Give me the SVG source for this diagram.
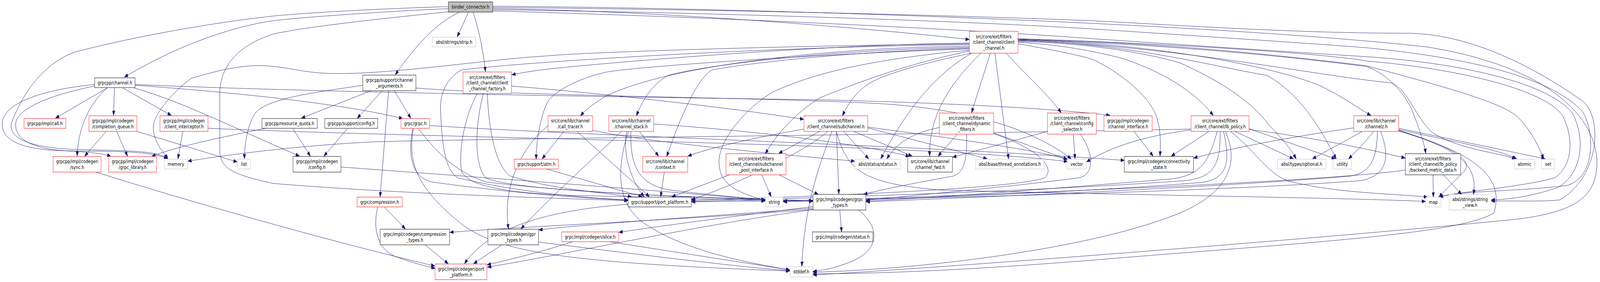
<svg xmlns="http://www.w3.org/2000/svg" width="5270" height="721" viewBox="0 0 5270 721" preserveAspectRatio="none">
<defs>
<style>
:root{width:100vw;height:100vh;display:block}
.n rect{fill:#ffffff;stroke-width:1}
.red rect{stroke:#ff0000}
.blk rect{stroke:#000000}
.ext rect{stroke:#bfbfbf}
.root rect{fill:#bfbfbf;stroke:#000000}
text{font-family:"DejaVu Sans","Liberation Sans",sans-serif;font-size:13px;text-anchor:middle;fill:#000000}
#edges path{fill:none;stroke:#191970;stroke-width:1;marker-end:url(#ah)}
</style>
<marker id="ah" markerWidth="13" markerHeight="9" refX="12" refY="4.5" orient="auto" markerUnits="userSpaceOnUse"><path d="M0,0 L12,4.5 L0,9 z" fill="#191970" stroke="#191970"/></marker>
</defs>
<rect x="0" y="0" width="5270" height="721" fill="#ffffff"/>
<g id="edges">
<path d="M1477,22 C1250,30 980,45 900,53 C800,64 620,100 410,197"/>
<path d="M1477,17 C1250,22 1000,33 900,41 C700,58 450,92 247,133 C150,160 80,230 40,310 C20,350 90,378 250,382 C420,386 510,384 553,405"/>
<path d="M1479,30 C1200,52 1000,70 900,87 C800,112 724,160 724,240 L724,382 C724,430 760,445 900,469 C1300,495 1800,506 2068,513"/>
<path d="M1543,31 L1506,94"/>
<path d="M1513,31 C1440,58 1375,110 1302,191"/>
<path d="M1558,31 C1580,80 1593,140 1599,183"/>
<path d="M1623,22 C2200,28 2900,75 3192,101"/>
<path d="M1623,19 C2200,23 3000,35 3600,53 C4000,70 4300,85 4647,85 C4850,90 5050,170 5212,258 C5280,300 5270,450 5138,511 C5080,516 5000,513 4912,514"/>
<path d="M1623,25 C2200,30 3100,50 3600,74 C4000,95 4300,110 4500,122 C4800,145 5100,190 5212,285 C5250,330 5260,450 5163,474 C5000,490 4800,488 4738,504"/>
<path d="M1623,28 C2200,40 3100,70 3600,99 C4000,120 4300,135 4500,145 C4800,160 5100,210 5180,290 C5230,370 5200,450 5130,480 C5050,500 4980,510 4912,511"/>
<path d="M1623,16 C2500,20 4000,60 4700,120 C5100,170 5262,300 5260,420 C5255,500 5200,540 5000,560 C4500,600 3200,680 2678,703"/>
<path d="M353,225 L183,302"/>
<path d="M353,225 C300,260 258,320 254,399"/>
<path d="M377,225 L374,295"/>
<path d="M405,225 L564,295"/>
<path d="M442,225 C600,260 750,320 986,399"/>
<path d="M445,216 C900,232 1800,246 2700,255 C3200,265 3500,280 3656,295"/>
<path d="M445,218 C700,232 1100,260 1326,303"/>
<path d="M312,216 C150,228 20,260 8,310 C0,350 50,378 172,384 C300,390 470,380 552,405"/>
<path d="M312,220 C150,245 60,280 52,313 C45,360 120,383 230,386 C300,390 340,392 365,400"/>
<path d="M350,336 L279,399"/>
<path d="M384,336 L420,399"/>
<path d="M451,336 L781,414"/>
<path d="M602,336 L586,406"/>
<path d="M685,328 C1500,355 3000,365 3516,413"/>
<path d="M876,328 C700,355 560,380 500,400"/>
<path d="M965,329 L1022,399"/>
<path d="M1144,329 L1067,399"/>
<path d="M1196,218 C1050,235 880,250 840,290 C815,320 805,370 805,406"/>
<path d="M1222,232 L993,302"/>
<path d="M1259,232 L1177,302"/>
<path d="M1299,232 L1353,302"/>
<path d="M1280,232 L1252,503"/>
<path d="M1370,225 C1700,246 2500,248 2900,265 C3200,280 3400,330 3528,406"/>
<path d="M1685,220 C2000,240 2400,275 2647,305"/>
<path d="M1605,239 C1610,330 1630,420 1680,450 C1800,480 1950,490 2080,503"/>
<path d="M1592,239 C1565,320 1560,420 1600,455 C1700,490 2300,505 2677,513"/>
<path d="M1572,239 C1530,300 1510,380 1520,437 C1540,480 1700,495 1900,500 C2200,505 2400,510 2520,514"/>
<path d="M1415,321 C2000,350 3000,370 3703,410"/>
<path d="M1359,329 C1345,390 1350,450 1420,465 C1700,495 1900,505 2068,512"/>
<path d="M1378,329 C1440,390 1500,440 1600,465 C1900,495 2400,508 2677,515"/>
<path d="M1362,329 C1340,420 1380,480 1500,560 C1620,640 1800,670 2601,693"/>
<path d="M1800,432 L2115,503"/>
<path d="M1123,427 C1700,460 2300,495 2520,512"/>
<path d="M1267,530 L1335,585"/>
<path d="M1244,530 C1225,590 1250,640 1300,655 C1350,670 1400,680 1433,686"/>
<path d="M1400,626 L1476,674"/>
<path d="M1653,626 L1560,674"/>
<path d="M1774,619 C2100,650 2400,680 2601,692"/>
<path d="M316,440 C600,510 1100,620 1432,680"/>
<path d="M2070,522 C1850,535 1620,570 1530,674"/>
<path d="M1857,336 L1786,406"/>
<path d="M1900,336 L2139,503"/>
<path d="M1952,333 C2100,360 2500,390 2815,412"/>
<path d="M1805,322 C1740,360 1650,460 1675,585"/>
<path d="M2106,336 L2169,399"/>
<path d="M2047,336 C1950,410 1830,490 1716,585"/>
<path d="M2064,336 C2050,400 2080,460 2121,503"/>
<path d="M2070,336 C2030,430 2030,520 2120,570 C2250,640 2450,670 2601,690"/>
<path d="M2078,336 C2075,420 2100,470 2200,485 C2350,500 2450,505 2520,511"/>
<path d="M2153,317 C2500,335 2850,370 2995,400"/>
<path d="M2188,440 L2176,503"/>
<path d="M2403,447 L2213,503"/>
<path d="M2509,447 L2540,503"/>
<path d="M2566,447 L2695,497"/>
<path d="M2700,336 L2565,392"/>
<path d="M2648,330 C2500,350 2350,375 2266,399"/>
<path d="M2755,336 L2763,496"/>
<path d="M2779,336 L2861,406"/>
<path d="M2812,336 L3004,399"/>
<path d="M2858,327 L3251,406"/>
<path d="M2858,325 C3100,350 3400,380 3517,408"/>
<path d="M2726,336 C2650,390 2400,480 2278,510"/>
<path d="M2740,336 C2700,420 2650,520 2641,681"/>
<path d="M2755,336 C2790,440 2850,470 3100,486 C3800,500 4400,505 4695,515"/>
<path d="M3923,330 C3000,345 1500,355 1221,363 C1000,372 800,390 619,412"/>
<path d="M3153,343 L3090,399"/>
<path d="M3184,343 C3185,400 3180,440 3140,450 C3000,470 2900,485 2845,497"/>
<path d="M3094,326 C3000,340 2950,370 2921,406"/>
<path d="M3273,340 L3515,407"/>
<path d="M3273,342 C3420,380 3480,430 3440,455 C3350,480 2800,500 2278,512"/>
<path d="M3450,336 L3138,402"/>
<path d="M3535,343 L3541,406"/>
<path d="M3558,343 C3610,400 3600,450 3550,455 C3300,480 3000,500 2853,512"/>
<path d="M3735,336 L3798,399"/>
<path d="M3982,336 L3858,399"/>
<path d="M4068,336 L4260,406"/>
<path d="M4114,329 L4398,406"/>
<path d="M4114,331 C4350,355 4500,380 4628,404"/>
<path d="M4036,336 C4085,420 4040,490 3900,540 C3600,640 3000,690 2678,696"/>
<path d="M4009,336 C3980,420 3950,450 3850,458 C3500,480 3100,505 2853,514"/>
<path d="M4019,336 C4020,420 4000,455 3900,462 C3400,490 2700,505 2278,515"/>
<path d="M4030,336 C4055,420 4040,460 3950,467 C3500,495 2900,510 2580,516"/>
<path d="M4053,336 C4140,390 4170,440 4240,462 C4400,495 4600,495 4702,504"/>
<path d="M3923,332 C3750,350 3650,380 3579,414"/>
<path d="M4607,328 L5089,406"/>
<path d="M4607,331 C4800,365 4930,380 4995,406"/>
<path d="M4607,333 C4780,375 4860,410 4820,440 C4790,465 4760,485 4740,504"/>
<path d="M4607,334 C4800,380 4870,420 4853,497"/>
<path d="M4607,335 C4850,390 4960,450 4920,545 C4800,600 4300,620 3600,665 C3200,690 2900,700 2678,700"/>
<path d="M4459,327 C4250,350 4050,380 3932,404"/>
<path d="M4487,336 L4323,406"/>
<path d="M4525,336 C4500,360 4470,385 4442,406"/>
<path d="M4537,336 C4535,400 4520,440 4450,450 C4000,480 3200,505 2853,516"/>
<path d="M4547,336 C4580,400 4570,450 4480,462 C4000,490 3000,510 2278,516"/>
<path d="M4720,447 L4721,504"/>
<path d="M4754,447 L4814,497"/>
<path d="M4629,435 C4300,470 3000,505 2580,514"/>
<path d="M2678,528 C2400,555 2200,575 2039,594"/>
<path d="M2678,532 C2300,555 1900,575 1775,588"/>
<path d="M2678,535 C2300,560 1700,580 1482,594"/>
<path d="M2766,536 L2772,593"/>
<path d="M2826,536 C2900,580 2900,640 2800,670 C2750,685 2720,690 2678,694"/>
<path d="M2678,536 C2300,575 1900,645 1606,683"/>
<path d="M2007,618 L2601,690"/>
<path d="M1886,618 C1800,640 1700,660 1605,677"/>
<path d="M3193,118 C2700,122 2200,170 2000,244 C1960,262 1930,280 1912,296"/>
<path d="M3193,121 C2700,128 2300,170 2200,193 C2150,215 2120,250 2096,296"/>
<path d="M3193,123 C2700,135 2400,170 2345,179 C2300,200 2250,280 2196,400"/>
<path d="M3193,125 C2700,138 2100,170 2000,184 C1900,200 1810,240 1800,267 C1780,300 1766,360 1766,407"/>
<path d="M3195,128 C2900,150 2700,180 2546,235 C2450,280 2368,360 2368,414 C2370,470 2420,490 2521,513"/>
<path d="M3196,130 C2950,170 2800,220 2700,250 C2620,290 2560,340 2521,393"/>
<path d="M3193,110 C2700,114 2000,160 1800,177 C1750,182 1710,187 1686,191"/>
<path d="M3193,112 C2500,118 1900,135 1800,143 C1600,152 1300,190 1101,188 C1000,187 950,172 900,170 C800,160 700,185 631,200 C560,240 500,300 505,330 C510,370 540,390 553,406"/>
<path d="M3193,114 C2500,120 1700,160 1520,179 C1470,200 1450,240 1451,276 C1455,380 1470,440 1510,455 C1700,490 1900,505 2068,511"/>
<path d="M3199,136 C3050,160 2900,190 2850,220 C2810,245 2790,270 2775,296"/>
<path d="M3201,136 C3100,180 3000,260 2901,406"/>
<path d="M3231,136 C3120,220 3060,300 3062,399"/>
<path d="M3262,136 L3200,288"/>
<path d="M3277,136 L3322,406"/>
<path d="M3314,136 C3390,200 3450,240 3495,288"/>
<path d="M3352,112 C3450,125 3550,140 3600,152 C3700,190 3790,250 3810,300 C3825,340 3822,370 3821,399"/>
<path d="M3352,108 C3500,115 3600,130 3700,150 C3850,190 3940,240 3996,295"/>
<path d="M3352,106 C3600,110 3800,140 3887,161 C4000,200 4117,253 4180,320 C4230,360 4255,385 4269,406"/>
<path d="M3352,104 C3700,108 4000,170 4174,193 C4280,240 4346,322 4401,406"/>
<path d="M3352,102 C3800,110 4200,170 4350,220 C4430,250 4480,280 4515,295"/>
<path d="M3352,100 C3900,110 4300,150 4500,168 C4700,210 4950,260 5000,300 C5050,340 5070,380 5085,406"/>
<path d="M3352,103 C3900,120 4300,190 4583,212 C4640,230 4660,300 4720,340 C4800,380 4930,390 4992,406"/>
<path d="M3352,101 C3900,115 4300,150 4500,170 C4560,185 4620,230 4650,280 C4670,320 4690,360 4696,392"/>
<path d="M3352,99 C3900,112 4400,140 4500,156 C4800,175 5100,230 5150,300 C5190,370 5170,430 5120,455 C5000,480 4800,490 4741,504"/>
</g>
<g id="binder_connector" class="n root"><rect x="1477" y="5" width="146" height="26"/><text x="1550" y="22.5">binder_connector.h</text></g>
<g id="strip" class="n ext"><rect x="1424" y="95" width="143" height="25"/><text x="1495.5" y="112">absl/strings/strip.h</text></g>
<g id="client_channel" class="n red"><rect x="3193" y="80" width="160" height="56"/><text x="3273" y="98">src/core/ext/filters</text><text x="3273" y="112.5">/client_channel/client</text><text x="3273" y="127">_channel.h</text></g>
<g id="channel" class="n blk"><rect x="312" y="199" width="133" height="25"/><text x="378.5" y="216">grpcpp/channel.h</text></g>
<g id="channel_arguments" class="n blk"><rect x="1195" y="192" width="175" height="40"/><text x="1282.5" y="209">grpcpp/support/channel</text><text x="1282.5" y="224">_arguments.h</text></g>
<g id="client_channel_factory" class="n red"><rect x="1525" y="184" width="160" height="55"/><text x="1605" y="202">src/core/ext/filters</text><text x="1605" y="216.5">/client_channel/client</text><text x="1605" y="231">_channel_factory.h</text></g>
<g id="call" class="n red"><rect x="79" y="303" width="138" height="25"/><text x="148" y="320">grpcpp/impl/call.h</text></g>
<g id="completion_queue" class="n red"><rect x="293" y="296" width="158" height="40"/><text x="372" y="313">grpcpp/impl/codegen</text><text x="372" y="328">/completion_queue.h</text></g>
<g id="client_interceptor" class="n red"><rect x="527" y="296" width="158" height="40"/><text x="606" y="313">grpcpp/impl/codegen</text><text x="606" y="328">/client_interceptor.h</text></g>
<g id="resource_quota" class="n blk"><rect x="863" y="303" width="182" height="25"/><text x="954" y="320">grpcpp/resource_quota.h</text></g>
<g id="support_config" class="n blk"><rect x="1070" y="303" width="174" height="25"/><text x="1157" y="320">grpcpp/support/config.h</text></g>
<g id="grpc" class="n red"><rect x="1321" y="303" width="94" height="25"/><text x="1368" y="320">grpc/grpc.h</text></g>
<g id="call_tracer" class="n red"><rect x="1805" y="296" width="147" height="40"/><text x="1878.5" y="313">src/core/lib/channel</text><text x="1878.5" y="328">/call_tracer.h</text></g>
<g id="channel_stack" class="n red"><rect x="2005" y="296" width="148" height="40"/><text x="2079" y="313">src/core/lib/channel</text><text x="2079" y="328">/channel_stack.h</text></g>
<g id="subchannel" class="n red"><rect x="2648" y="296" width="210" height="40"/><text x="2753" y="313">src/core/ext/filters</text><text x="2753" y="328">/client_channel/subchannel.h</text></g>
<g id="dynamic_filters" class="n red"><rect x="3094" y="289" width="179" height="54"/><text x="3183.5" y="306">src/core/ext/filters</text><text x="3183.5" y="320.5">/client_channel/dynamic</text><text x="3183.5" y="335">_filters.h</text></g>
<g id="config_selector" class="n red"><rect x="3450" y="289" width="161" height="54"/><text x="3530.5" y="306">src/core/ext/filters</text><text x="3530.5" y="320.5">/client_channel/config</text><text x="3530.5" y="335">_selector.h</text></g>
<g id="channel_interface" class="n red"><rect x="3636" y="296" width="159" height="40"/><text x="3715.5" y="313">grpcpp/impl/codegen</text><text x="3715.5" y="328">/channel_interface.h</text></g>
<g id="lb_policy" class="n red"><rect x="3923" y="296" width="191" height="40"/><text x="4018.5" y="313">src/core/ext/filters</text><text x="4018.5" y="328">/client_channel/lb_policy.h</text></g>
<g id="channelz" class="n red"><rect x="4459" y="296" width="148" height="40"/><text x="4533" y="313">src/core/lib/channel</text><text x="4533" y="328">/channelz.h</text></g>
<g id="sync" class="n red"><rect x="175" y="400" width="158" height="40"/><text x="254" y="417">grpcpp/impl/codegen</text><text x="254" y="432">/sync.h</text></g>
<g id="grpc_library" class="n red"><rect x="358" y="400" width="158" height="40"/><text x="437" y="417">grpcpp/impl/codegen</text><text x="437" y="432">/grpc_library.h</text></g>
<g id="memory" class="n ext"><rect x="541" y="407" width="77" height="25"/><text x="579.5" y="424">memory</text></g>
<g id="list" class="n ext"><rect x="782" y="407" width="43" height="25"/><text x="803.5" y="424">list</text></g>
<g id="codegen_config" class="n blk"><rect x="965" y="400" width="158" height="40"/><text x="1044" y="417">grpcpp/impl/codegen</text><text x="1044" y="432">/config.h</text></g>
<g id="atm" class="n red"><rect x="1694" y="407" width="145" height="25"/><text x="1766.5" y="424">grpc/support/atm.h</text></g>
<g id="context" class="n red"><rect x="2117" y="400" width="148" height="40"/><text x="2191" y="417">src/core/lib/channel</text><text x="2191" y="432">/context.h</text></g>
<g id="subchannel_pool_interface" class="n red"><rect x="2391" y="393" width="198" height="54"/><text x="2490" y="410">src/core/ext/filters</text><text x="2490" y="424.5">/client_channel/subchannel</text><text x="2490" y="439">_pool_interface.h</text></g>
<g id="absl_status" class="n ext"><rect x="2816" y="407" width="149" height="25"/><text x="2890.5" y="424">absl/status/status.h</text></g>
<g id="channel_fwd" class="n blk"><rect x="2990" y="400" width="147" height="40"/><text x="3063.5" y="417">src/core/lib/channel</text><text x="3063.5" y="432">/channel_fwd.h</text></g>
<g id="thread_annotations" class="n ext"><rect x="3213" y="407" width="226" height="25"/><text x="3326" y="424">absl/base/thread_annotations.h</text></g>
<g id="vector" class="n ext"><rect x="3515" y="407" width="63" height="25"/><text x="3546.5" y="424">vector</text></g>
<g id="connectivity_state" class="n blk"><rect x="3703" y="400" width="228" height="40"/><text x="3817" y="417">grpc/impl/codegen/connectivity</text><text x="3817" y="432">_state.h</text></g>
<g id="optional" class="n ext"><rect x="4208" y="407" width="159" height="25"/><text x="4287.5" y="424">absl/types/optional.h</text></g>
<g id="utility" class="n ext"><rect x="4391" y="407" width="60" height="25"/><text x="4421" y="424">utility</text></g>
<g id="backend_metric_data" class="n blk"><rect x="4629" y="393" width="182" height="54"/><text x="4720" y="410">src/core/ext/filters</text><text x="4720" y="424.5">/client_channel/lb_policy</text><text x="4720" y="439">/backend_metric_data.h</text></g>
<g id="atomic" class="n ext"><rect x="4988" y="407" width="66" height="25"/><text x="5021" y="424">atomic</text></g>
<g id="set" class="n ext"><rect x="5078" y="407" width="43" height="25"/><text x="5099.5" y="424">set</text></g>
<g id="compression" class="n red"><rect x="1176" y="504" width="149" height="25"/><text x="1250.5" y="521">grpc/compression.h</text></g>
<g id="support_port_platform" class="n blk"><rect x="2069" y="504" width="208" height="25"/><text x="2173" y="521">grpc/support/port_platform.h</text></g>
<g id="string" class="n ext"><rect x="2521" y="504" width="58" height="25"/><text x="2550" y="521">string</text></g>
<g id="grpc_types" class="n blk"><rect x="2678" y="497" width="174" height="40"/><text x="2765" y="514">grpc/impl/codegen/grpc</text><text x="2765" y="529">_types.h</text></g>
<g id="map" class="n ext"><rect x="4696" y="504" width="50" height="25"/><text x="4721" y="521">map</text></g>
<g id="string_view" class="n ext"><rect x="4773" y="497" width="138" height="40"/><text x="4842" y="514">absl/strings/string</text><text x="4842" y="529">_view.h</text></g>
<g id="compression_types" class="n blk"><rect x="1252" y="586" width="229" height="40"/><text x="1366.5" y="603">grpc/impl/codegen/compression</text><text x="1366.5" y="618">_types.h</text></g>
<g id="gpr_types" class="n blk"><rect x="1607" y="586" width="167" height="40"/><text x="1690.5" y="603">grpc/impl/codegen/gpr</text><text x="1690.5" y="618">_types.h</text></g>
<g id="slice" class="n red"><rect x="1850" y="593" width="188" height="25"/><text x="1944" y="610">grpc/impl/codegen/slice.h</text></g>
<g id="codegen_status" class="n blk"><rect x="2676" y="593" width="199" height="25"/><text x="2775.5" y="610">grpc/impl/codegen/status.h</text></g>
<g id="codegen_port_platform" class="n red"><rect x="1433" y="675" width="171" height="40"/><text x="1518.5" y="692">grpc/impl/codegen/port</text><text x="1518.5" y="707">_platform.h</text></g>
<g id="stddef" class="n ext"><rect x="2602" y="682" width="75" height="26"/><text x="2639.5" y="699">stddef.h</text></g>
</svg>
